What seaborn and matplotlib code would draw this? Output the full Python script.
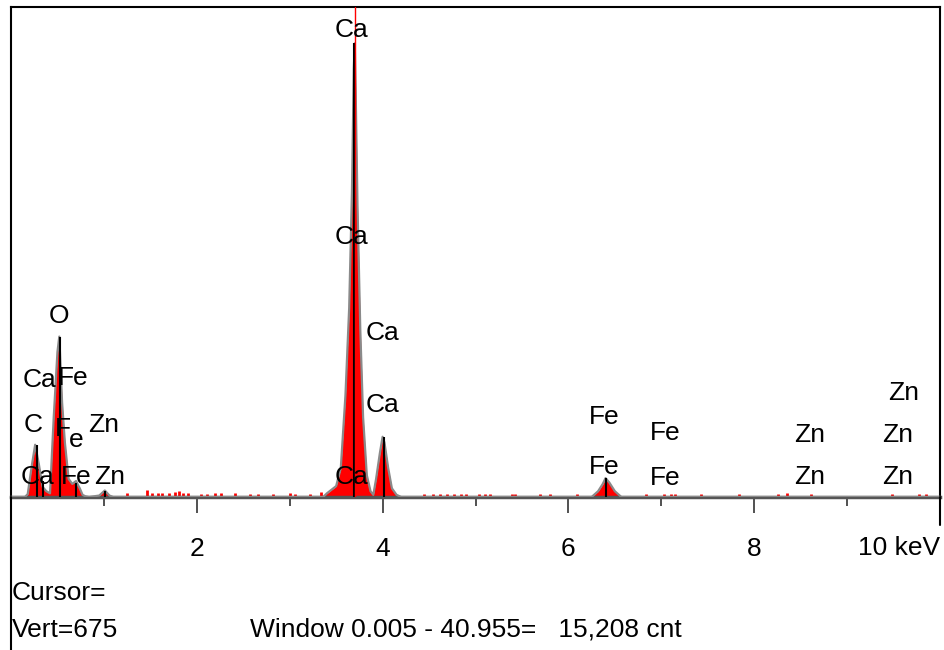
"""
EDS 能谱图复刻：Ca / O / C / Fe / Zn
"""

import numpy as np
import matplotlib.pyplot as plt
import seaborn as sns
from matplotlib.lines import Line2D

sns.set_theme(style='white')
plt.rcParams['font.family'] = ['Liberation Sans Narrow', 'Liberation Sans', 'DejaVu Sans']
plt.rcParams['text.color'] = 'black'
plt.rcParams['xtick.color'] = 'black'
plt.rcParams['xtick.labelcolor'] = 'black'

# ========== 数据 ==========
# 谱线轮廓：能量 (keV) 与计数
energy_kev = [0.00, 0.15, 0.18, 0.22, 0.26, 0.30, 0.34, 0.38, 0.42, 0.46, 0.50, 0.52,
              0.55, 0.58, 0.62, 0.66, 0.70, 0.74, 0.77, 0.80, 0.84, 0.95, 1.01, 1.06,
              1.10, 3.36, 3.40, 3.50, 3.55, 3.60, 3.64, 3.67, 3.69, 3.70, 3.71, 3.73,
              3.76, 3.79, 3.83, 3.87, 3.90, 3.93, 3.97, 4.00, 4.02, 4.06, 4.10, 4.15,
              4.20, 6.25, 6.32, 6.37, 6.40, 6.44, 6.50, 6.57, 10.0]
counts = [0, 0, 4, 40, 72, 45, 14, 8, 5, 110, 200, 221,
          130, 75, 25, 18, 22, 12, 3, 1, 0, 2, 9, 2,
          0, 0, 5, 15, 40, 140, 260, 420, 590, 625, 560, 400,
          230, 110, 30, 8, 3, 25, 60, 83, 75, 40, 12, 3,
          0, 0, 8, 18, 26, 20, 8, 0, 0]

# 背景噪声小尖峰
noise_kev = [1.25, 1.46, 1.52, 1.58, 1.63, 1.70, 1.76, 1.81, 1.85, 1.90, 2.04, 2.11,
             2.20, 2.26, 2.41, 2.57, 2.66, 2.82, 3.00, 3.06, 3.22, 3.34, 3.47,
             4.45, 4.54, 4.62, 4.69, 4.77, 4.84, 4.90, 5.04, 5.10, 5.16, 5.39,
             5.43, 5.69, 5.80, 6.09, 6.84, 7.03, 7.10, 7.15, 7.43, 7.84, 8.26,
             8.35, 8.61, 9.48, 9.77, 9.85]
noise_cnt = [5, 9, 5, 6, 5, 6, 7, 8, 5, 5, 4, 4,
             6, 6, 5, 4, 4, 4, 5, 4, 4, 7, 6,
             4, 4, 4, 4, 4, 4, 4, 4, 4, 4, 4,
             4, 4, 4, 4, 4, 4, 4, 4, 4, 4, 4,
             6, 4, 4, 4, 4]

# 元素特征峰标记线（黑色竖线）
line_kev = [0.277, 0.341, 0.525, 0.705, 1.012, 3.69, 4.01, 6.40]
line_cnt = [72, 22, 220, 19, 8, 625, 83, 26]

# 峰标签：(文字, 能量 keV, 标签高度)
peak_labels = [
    ('Ca', 3.67, 643), ('Ca', 3.67, 358), ('Ca', 4.00, 226), ('Ca', 4.00, 127),
    ('Ca', 3.67, 28), ('O', 0.516, 249), ('Ca', 0.31, 161), ('Fe', 0.667, 164),
    ('C', 0.237, 99), ('Zn', 1.00, 99), ('Ca', 0.29, 28), ('Fe', 0.70, 28),
    ('Zn', 1.06, 28), ('Fe', 6.38, 110), ('Fe', 6.38, 41), ('Fe', 7.04, 88),
    ('Fe', 7.04, 26), ('Zn', 8.60, 85), ('Zn', 8.60, 28), ('Zn', 9.61, 143),
    ('Zn', 9.54, 85), ('Zn', 9.54, 28),
]

cursor_kev = 3.70
vert_max = 675

# ========== 绘图 ==========
fig = plt.figure(figsize=(9.44, 6.5), dpi=100)
ax = fig.add_axes([11 / 944, 153 / 650, 929 / 944, 490 / 650])

ax.fill_between(energy_kev, counts, color='red', lw=0, zorder=2)
sns.lineplot(x=energy_kev, y=counts, color='#8a8a8a', lw=1.6, ax=ax, zorder=3)
ax.vlines(noise_kev, 0, noise_cnt, color='red', lw=2, zorder=2)
ax.vlines(line_kev, 0, line_cnt, color='black', lw=1.5, zorder=4)
ax.axvline(cursor_kev, color='red', lw=1, zorder=5)

fs = 19
for txt, x, y in peak_labels:
    ax.text(x, y, txt, ha='center', va='center', fontsize=fs, color='black', zorder=6)
# 被谱峰挤开的 "Fe"
ax.text(0.56, 94, 'F', ha='center', va='center', fontsize=fs, zorder=6)
ax.text(0.70, 78, 'e', ha='center', va='center', fontsize=fs, zorder=6)

ax.set_xlim(0, 10)
ax.set_ylim(0, vert_max)
ax.set_xticks([2, 4, 6, 8])
ax.set_xticklabels(['2', '4', '6', '8'], fontsize=fs, color='black')
ax.set_xticks([1, 3, 5, 7, 9], minor=True)
ax.set_yticks([])
ax.tick_params(axis='x', which='major', direction='out', length=11.5, width=1.2,
               color='#333333', pad=17, bottom=True)
ax.tick_params(axis='x', which='minor', direction='out', length=6.5, width=1.2,
               color='#333333', bottom=True)
ax.text(10, -0.105 * vert_max, '10 keV', ha='right', va='center', fontsize=fs,
        clip_on=False)

for side in ['left', 'top', 'right']:
    ax.spines[side].set_color('black')
    ax.spines[side].set_linewidth(1.5)
ax.spines['bottom'].set_color('#555555')
ax.spines['bottom'].set_linewidth(2.5)

# 外框延长线
fig.add_artist(Line2D([11 / 944, 11 / 944], [0, 153 / 650], color='black', lw=1.5))
fig.add_artist(Line2D([940 / 944, 940 / 944], [125 / 650, 153 / 650], color='black', lw=1.5))

fig.text(12 / 944, 1 - 593 / 650, 'Cursor=', ha='left', va='center', fontsize=fs)
fig.text(12 / 944, 1 - 630 / 650, 'Vert=675', ha='left', va='center', fontsize=fs)
fig.text(250 / 944, 1 - 630 / 650, 'Window 0.005 - 40.955=   15,208 cnt',
         ha='left', va='center', fontsize=fs)

plt.savefig('out.png', dpi=100, facecolor='white')
